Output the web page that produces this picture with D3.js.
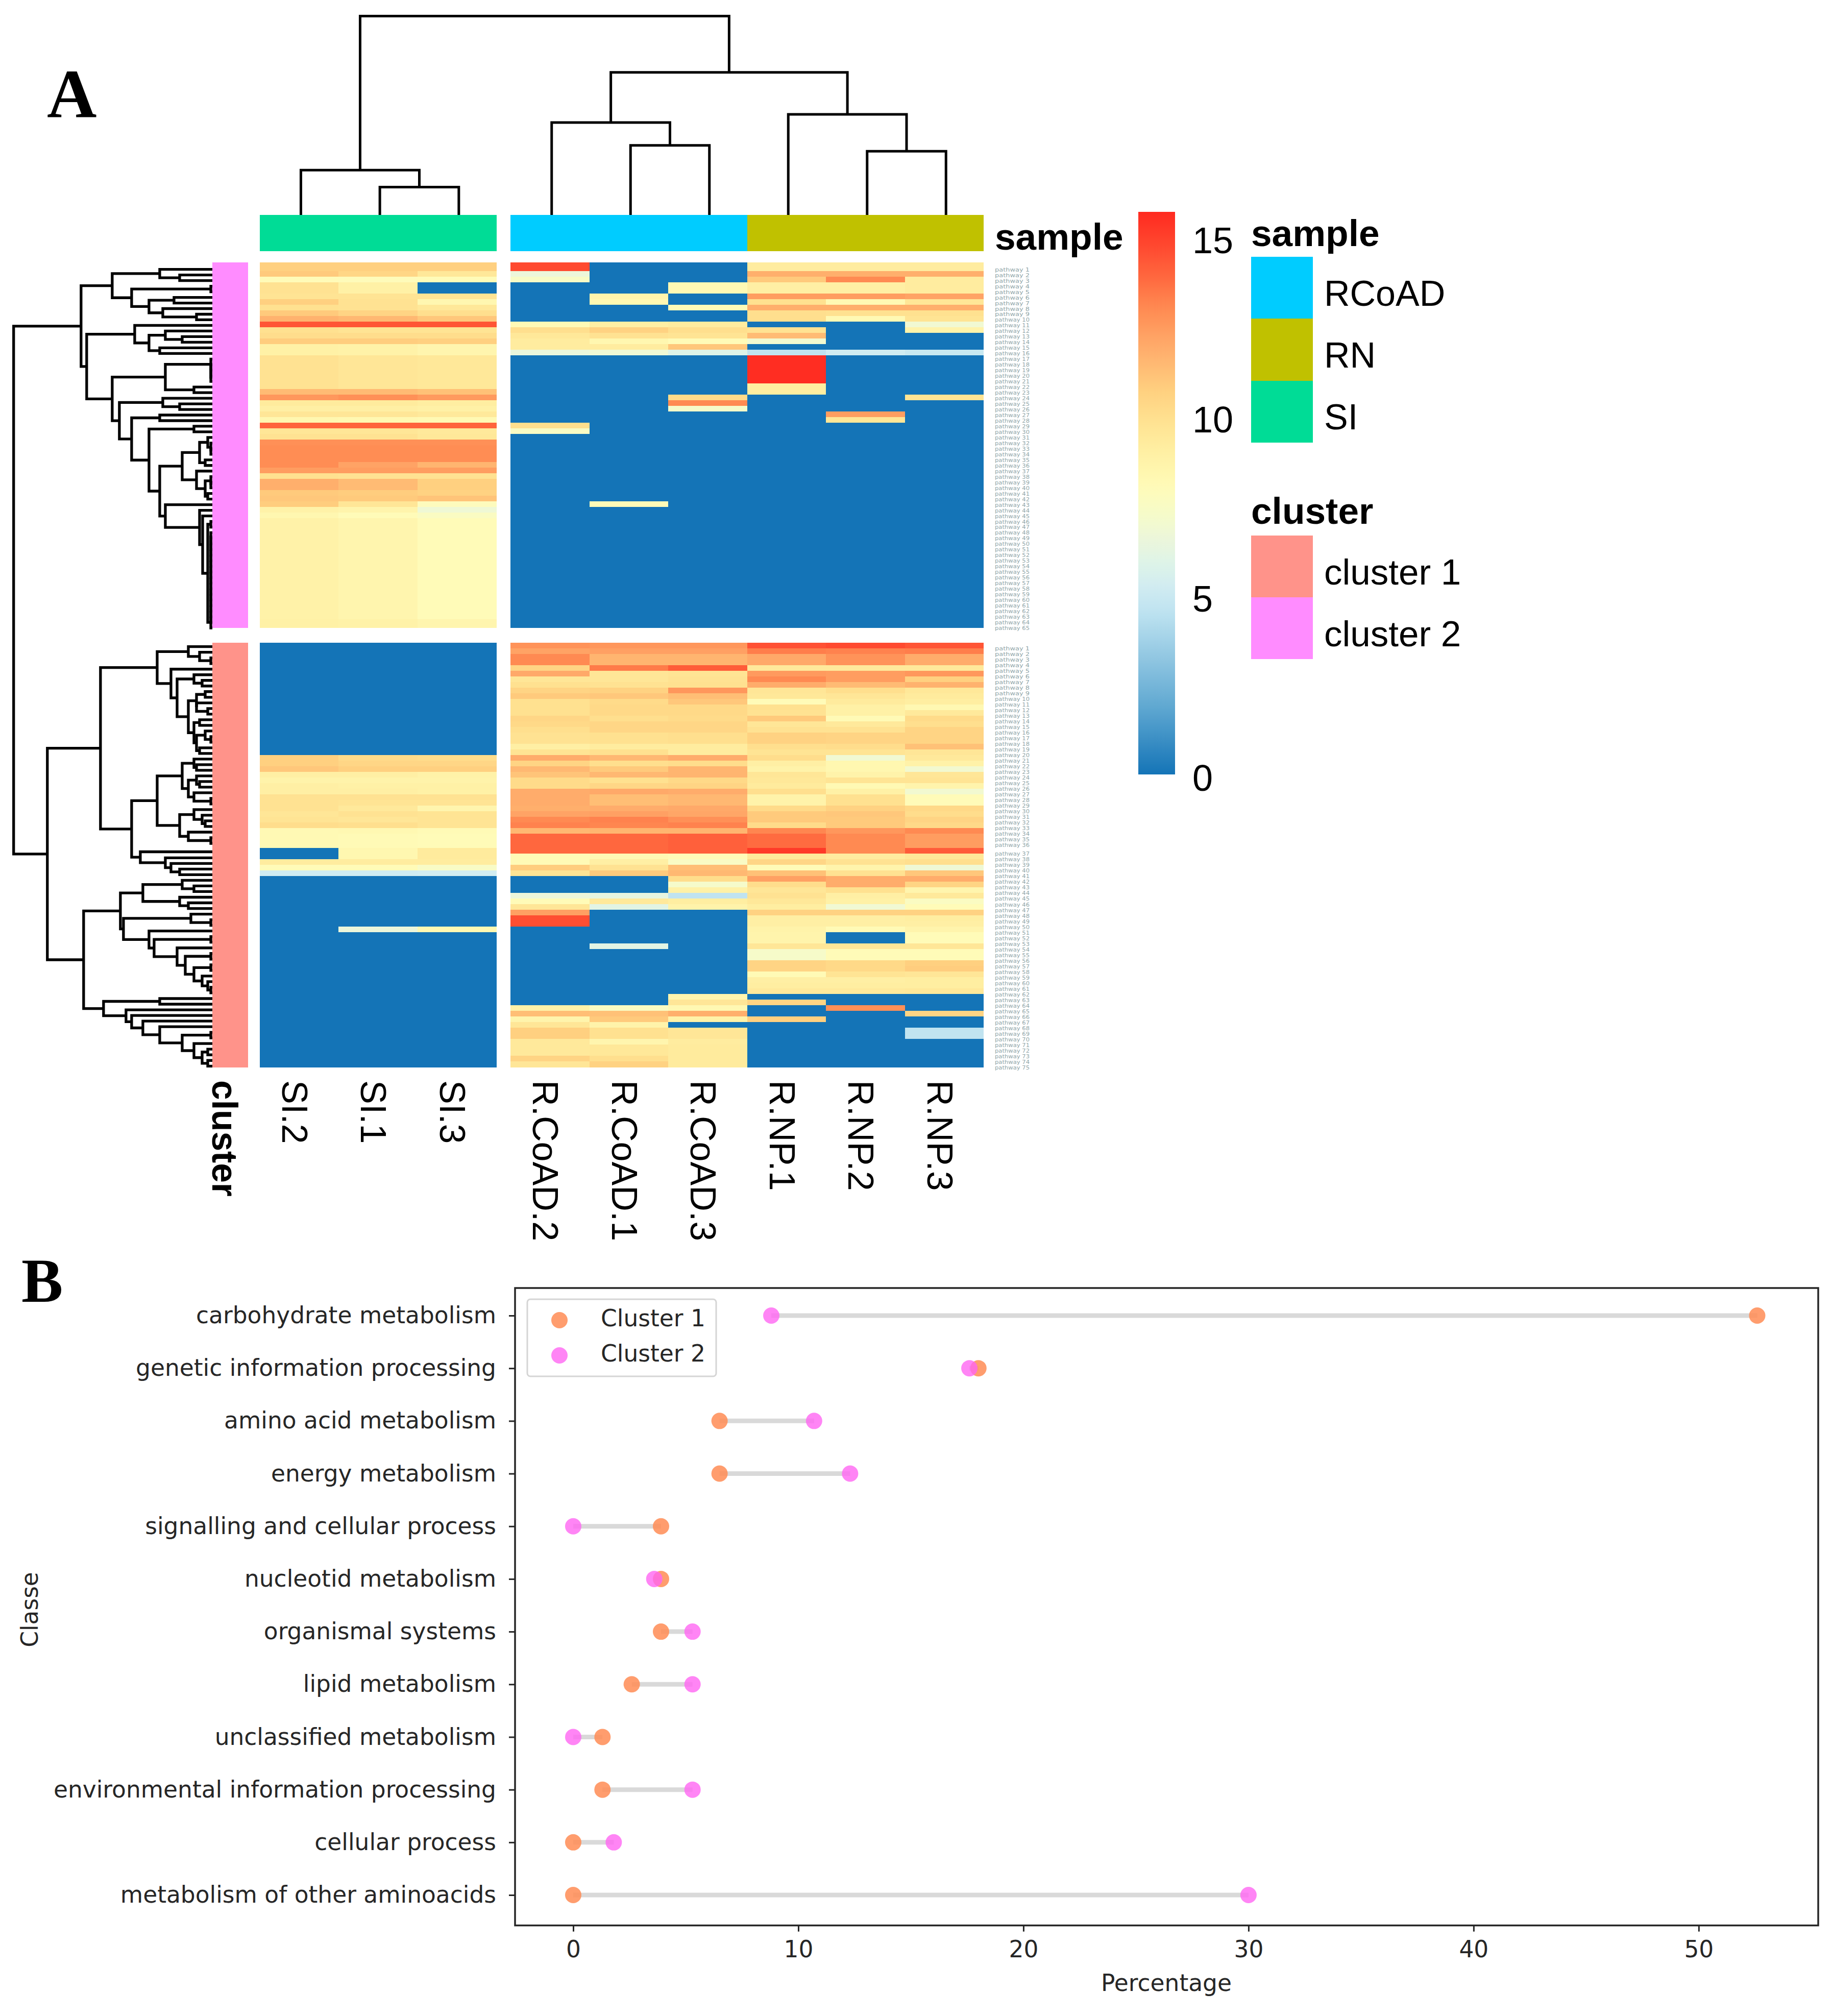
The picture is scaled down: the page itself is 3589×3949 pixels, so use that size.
<!DOCTYPE html>
<html><head><meta charset="utf-8">
<script src="https://cdn.jsdelivr.net/npm/d3@7"></script>
<style>html,body{margin:0;background:#fff}svg{display:block}</style></head>
<body><svg id="c" width="3589" height="3949" xmlns="http://www.w3.org/2000/svg"></svg>
<script>
// ---------- DATA ----------
const columnsSI = ["SI.2","SI.1","SI.3"];
const columnsR = ["R.CoAD.2","R.CoAD.1","R.CoAD.3","R.NP.1","R.NP.2","R.NP.3"];
// each row: SI.2 SI.1 SI.3 | R.CoAD.2 R.CoAD.1 R.CoAD.3 | R.NP.1 R.NP.2 R.NP.3
const heatCluster2 = [
[10.7,10.7,10.7,14.7,0,0,9.2,9.2,9.2],
[10.9,10.4,9.5,6.6,0,0,11.8,11.8,11.8],
[8,7.9,8,7.4,0,0,10.9,13,9.2],
[9.8,8.9,0,0,0,8.2,9,9,9.2],
[9.8,8.9,0,0,0,8.2,9,9,9.2],
[9.7,9.7,9.7,0,8.6,0,12.4,12.4,12.2],
[10.7,9.8,8.4,0,8.3,0,9.9,8.2,9.6],
[9.9,9.8,9.5,0,0,8,11.8,11.8,11.8],
[10.9,10.5,10,0,0,0,10,9.9,9.9],
[11.7,11.5,11,0,0,0,10,8.2,9.7],
[14.4,14.4,14.4,8.1,9,9.2,0,0,6.9],
[9.9,9.7,9.7,10,10.6,10,9.8,0,8.7],
[10.1,10.1,10.1,9.5,9.8,9.7,11.4,0,0],
[10.8,10.8,10.7,9.2,8.4,8,7,0,0],
[8.9,8.8,8.5,9.2,9.2,11,0,0,0],
[8.9,8.8,8.5,6.5,6.8,5.9,4.6,5.2,4.9],
[9.8,9.6,9.5,0,0,0,15.6,0,0],
[9.8,9.6,9.5,0,0,0,15.6,0,0],
[9.8,9.6,9.5,0,0,0,15.6,0,0],
[9.8,9.6,9.5,0,0,0,15.6,0,0],
[9.8,9.6,9.5,0,0,0,15.6,0,0],
[9.8,9.6,9.5,0,0,0,9.1,0,0],
[11.4,11.4,11.2,0,0,0,9.1,0,0],
[12.6,12.8,12.5,0,0,10.2,0,0,9.7],
[9.3,9.3,9.1,0,0,13,0,0,0],
[9,9,8.9,0,0,7.3,0,0,0],
[9.6,9.6,9.4,0,0,0,0,12.4,0],
[8.4,8.3,8.2,0,0,0,0,9.6,0],
[14,14,14,10,0,0,0,0,0],
[9.6,9.6,9.4,7.5,0,0,0,0,0],
[9.8,9.8,9.5,0,0,0,0,0,0],
[12.8,12.8,12.8,0,0,0,0,0,0],
[12.9,12.9,12.9,0,0,0,0,0,0],
[12.9,12.9,12.9,0,0,0,0,0,0],
[12.9,12.9,12.9,0,0,0,0,0,0],
[12.9,12.2,11.6,0,0,0,0,0,0],
[12.4,12.4,12.4,0,0,0,0,0,0],
[9.9,9.8,9.8,0,0,0,0,0,0],
[11.8,11.4,10.7,0,0,0,0,0,0],
[11.8,11.4,10.7,0,0,0,0,0,0],
[10.9,10.8,10.6,0,0,0,0,0,0],
[11,10.9,11.1,0,0,0,0,0,0],
[10.8,9.6,7.8,0,8,0,0,0,0],
[8.8,8.6,6.8,0,0,0,0,0,0],
[8.4,8,7.6,0,0,0,0,0,0],
[8.8,8.5,8,0,0,0,0,0,0],[8.8,8.5,8,0,0,0,0,0,0],[8.8,8.5,8,0,0,0,0,0,0],[8.8,8.5,8,0,0,0,0,0,0],
[8.8,8.5,8,0,0,0,0,0,0],[8.8,8.5,8,0,0,0,0,0,0],[8.8,8.5,8,0,0,0,0,0,0],[8.8,8.5,8,0,0,0,0,0,0],
[8.8,8.5,8,0,0,0,0,0,0],[8.8,8.5,8,0,0,0,0,0,0],[8.8,8.5,8,0,0,0,0,0,0],[8.8,8.5,8,0,0,0,0,0,0],
[8.8,8.5,8,0,0,0,0,0,0],[8.8,8.5,8,0,0,0,0,0,0],[8.8,8.5,8,0,0,0,0,0,0],[8.8,8.5,8,0,0,0,0,0,0],
[8.8,8.5,8,0,0,0,0,0,0],[8.8,8.5,8,0,0,0,0,0,0],
[8.9,8.8,8.5,0,0,0,0,0,0],[8.9,8.8,8.5,0,0,0,0,0,0]
];
const heatCluster1 = [
[0,0,0,12.7,12.6,12.6,14.5,14.7,14.4],
[0,0,0,12.2,12.3,12.3,13.3,13.2,13.3],
[0,0,0,13,11.6,11.6,12,12.7,11.9],
[0,0,0,13,11.6,11.6,12,12.7,11.9],
[0,0,0,10.5,13.4,14.2,9.4,9.4,9.4],
[0,0,0,12,9.6,9.7,12.5,12.4,12.6],
[0,0,0,9.6,9.6,9.8,13,12.4,10.7],
[0,0,0,9.9,9.8,9.9,11.9,11.4,11.7],
[0,0,0,10.5,10.6,12.6,9.6,10,9.5],
[0,0,0,10.9,11,11.3,9.5,9.6,9.3],
[0,0,0,9.9,10.2,11,8,9.3,9.1],
[0,0,0,9.9,10.3,10.3,9.9,8.9,8.3],
[0,0,0,9.9,10.3,10.3,9.8,8.9,9.4],
[0,0,0,10.4,10,10.2,10.9,8.1,10.2],
[0,0,0,10.3,10.4,10.4,9.6,9.4,10],
[0,0,0,10,10.4,10.4,9.8,9.8,10.5],
[0,0,0,9.8,9.9,10,10.6,10.5,10.5],
[0,0,0,9.8,9.9,10,10.6,10.5,10.5],
[0,0,0,9,9.2,9.2,10,10.1,11.2],
[0,0,0,9.7,9.9,9.2,9.7,9.7,9.6],
[10.7,10.2,10.1,11.9,11.5,11.9,10.1,6.9,9.4],
[10.7,10.4,10.4,10.5,10,10.1,9,8.4,8.8],
[11,10.7,10.7,11.5,10.9,11.6,8.7,8.4,7],
[9,9,8.8,11.1,11.5,11.6,9.6,8.7,9.6],
[8.7,8.7,8.7,10.2,9.9,10.3,9.5,9.7,9.7],
[9,8.9,8.9,10.2,10.4,10.5,9.3,8.2,8.6],
[9,9,8.9,11.9,12,11.9,10,8.9,7],
[9.8,9.8,9.8,11.9,11.3,11.5,8.7,9.9,8],
[9.8,9.7,9.7,11.9,11.3,11.5,8.7,9.9,8],
[9.8,9.4,8.5,11.8,11.9,12,10.2,10.6,10.3],
[9.6,9.8,9.7,12.2,12.3,12.1,10.9,11,10.1],
[9.7,9.6,9.7,13,13.2,12.8,10.9,10.9,10.5],
[10.1,10,9.7,13.2,13.1,13.2,10.2,10.9,10.3],
[8.2,8.3,8.1,11.5,11.6,11.6,13.1,12.6,13],
[8.2,8.1,8,13.9,13.9,14.1,13.8,13,12.4],
[8.2,8.1,8,13.9,13.9,14.1,13.8,13,12.4],
[0,8.4,9.3,13.9,13.9,14.1,15.2,13,14.2],
[0,8.4,9.3,8.1,8.2,8,9.4,9.2,9.5],
[9.2,9.2,9.2,8.1,9,7.5,10.4,9.8,10],
[8,8,7.4,10.8,9.8,11.3,8,8.6,6.8],
[5.2,5.2,5.3,9.7,10.9,11.5,11.2,9.8,11],
[0,0,0,0,0,10.1,12.3,11.9,11.9],
[0,0,0,0,0,7.2,10.1,11.9,10.5],
[0,0,0,0,0,8.9,9.6,9.9,8.5],
[0,0,0,6.6,6.3,4.6,9.8,9,9.4],
[0,0,0,8,9.4,9.1,9.5,8.9,7.6],
[0,0,0,9.6,6.1,8.7,9.1,6.9,8],
[0,0,0,12.3,0,0,10.6,10.6,10.6],
[0,0,0,14.6,0,0,9,9,9.1],
[0,0,0,14.6,0,0,9,9,9],
[0,6.6,8.3,0,0,0,8.7,8.1,8.6],
[0,0,0,0,0,0,8.6,0,8],
[0,0,0,0,0,0,8.6,0,8],
[0,0,0,0,6.1,0,9.6,9.6,9.6],
[0,0,0,0,0,0,7.3,8,8],
[0,0,0,0,0,0,7.3,8,8],
[0,0,0,0,0,0,10.5,10.3,10.7],
[0,0,0,0,0,0,10.5,10.3,10.8],
[0,0,0,0,0,0,8.1,9.7,9.6],
[0,0,0,0,0,0,9,9,9.1],
[0,0,0,0,0,0,9.1,9.1,9.1],
[0,0,0,0,0,0,9.4,9.4,9.5],
[0,0,0,0,0,8.5,0,0,0],
[0,0,0,0,0,9.6,10.5,0,0],
[0,0,0,8.8,7.6,8.3,0,12.8,0],
[0,0,0,11.3,11.2,11.8,0,0,10.5],
[0,0,0,8.6,10.9,8.8,10.7,0,0],
[0,0,0,9.6,8.7,0,0,0,0],
[0,0,0,10.7,9.9,9.6,0,0,4.6],
[0,0,0,10.7,9.9,9.6,0,0,4.6],
[0,0,0,9.4,8.5,9.2,0,0,0],
[0,0,0,9.4,9.5,9.3,0,0,0],
[0,0,0,9.4,9.5,9.3,0,0,0],
[0,0,0,10.5,10,9.3,0,0,0],
[0,0,0,9.6,10.6,9.3,0,0,0]
];
// colour scale stops
const colorStops = [0,2,4.5,5.2,6,6.6,7.2,8,8.8,9.3,10,10.7,11.5,12.2,13,13.8,14.7,15.7];
const colorValues = ["#1474b7","#64abd3","#bde2f0","#d0ecf2","#e0f4e6","#ecf6da","#f5fbcb","#fffbb8","#fff2a8","#ffeb9d","#ffdf8e","#ffd080","#ffb872","#ffa365","#ff8a52","#ff6b40","#ff4a30","#ff2a20"];
const colorTicks = [0,5,10,15];
// dendrograms: [merge height, childA, childB], 0 is a leaf
const colTree = [100,[22.5,0,[14,0,0]],[71.7,[46.5,0,[35,0,0]],[50.6,0,[32,0,0]]]];
const tail = [3,[3,[3,[3,[3,[3,[3,[3,[3,[3,[3,[3,[3,[3,[3,[3,[3,0,0],0],0],0],0],0],0],0],0],0],0],0],0],0],0],0],0];
const treeCluster2 = [257,
 [196,[103,0,[64,0,0]],[158,[3,0,0],[124,[75,0,0],[97,0,[31,0,0]]]]],
 [246,[152,0,[124,[92,0,[59,0,0]],[103,0,0]]],
  [196,[92,[3,0,[3,0,[3,0,[3,0,0]]]],[36,0,0]],
   [182,[97,0,[64,0,0]],
    [158,[103,0,0],
     [124,[36,0,0],
      [103,[59,[25,[9,0,[3,0,[3,0,0]]],[14,0,0]],[31,0,[14,[3,0,[3,0,0]],[9,0,0]]]],
       [92,0,[25,0,[19,0,[9,[3,0,0],tail]]]]]]]]]]];
const treeCluster1 = [323,
 [219,
  [108,[47,0,[25,0,[3,0,0]]],[81,0,[69,[36,0,[20,0,0]],[47,[31,[14,0,0],[31,0,[9,0,0]]],[36,[25,0,0],[31,[14,0,[3,0,0]],[25,0,0]]]]]]],
  [158,
   [108,[59,[36,0,[31,0,0]],[47,[31,0,[25,0,0]],[36,0,[3,0,0]]]],[64,[36,0,[20,0,[14,0,0]]],[47,0,[3,0,0]]]],
   [141,0,[92,0,[81,0,[64,0,0]]]]]],
 [252,
  [180,[136,[59,0,[36,0,0]],[64,0,[47,0,0]]],
   [174,[42,0,[3,0,0]],[124,0,[114,[3,0,0],[69,0,[53,[3,0,0],[36,[3,0,0],[20,0,[9,0,[3,0,0]]]]]]]]]],
  [213,[103,0,0],[169,0,[158,0,[136,0,[103,0,[59,[3,0,0],[36,0,[20,[9,0,0],[9,0,0]]]]]]]]]]];
const rowTree = [389,treeCluster2,treeCluster1];
const sampleLegend = ["RCoAD","RN","SI"];
const clusterLegend = ["cluster 1","cluster 2"];
// panel B
const classes = ["carbohydrate metabolism","genetic information processing","amino acid metabolism","energy metabolism","signalling and cellular process","nucleotid metabolism","organismal systems","lipid metabolism","unclassified metabolism","environmental information processing","cellular process","metabolism of other aminoacids"];
const cluster1Pct = [52.6,18,6.5,6.5,3.9,3.9,3.9,2.6,1.3,1.3,0,0];
const cluster2Pct = [8.8,17.6,10.7,12.3,0,3.6,5.3,5.3,0,5.3,1.8,30];
const pctTicks = [0,10,20,30,40,50];

// ---------- STYLE ----------
const SANS = "'Liberation Sans',Arial,sans-serif", DJ = "'DejaVu Sans',sans-serif", SERIF="'Liberation Serif',serif";
const cSI="#00dc96", cRC="#00ccff", cRN="#c0c100", cC1="#ff938a", cC2="#ff8cff";
const svg = d3.select("#c");
const color = d3.scaleLinear().domain(colorStops).range(colorValues).clamp(true);

// ---------- HEATMAP SCALES ----------
const xSI = d3.scaleBand().domain(columnsSI).range([508.6,972.7]);
const xR  = d3.scaleBand().domain(columnsR).range([1000,1927]);
const colX = c => columnsSI.includes(c) ? xSI(c) : xR(c);
const allCols = columnsSI.concat(columnsR);
const step = 11.007;
const yC2 = d3.scaleLinear().domain([0,1,64,65]).range([514,514+1.53*step,514+1.53*step+63*step,1230]);
const yC1 = d3.scaleLinear().domain([0,34,35,75]).range([1258.5,1258.5+34*step,1258.5+35.55*step,2090.5]);

function drawHeat(rows,y,cls){
  const g = svg.append("g").attr("class",cls).attr("shape-rendering","crispEdges");
  rows.forEach((r,i)=>{
    g.selectAll(null).data(r).join("rect")
     .attr("x",(d,j)=>colX(allCols[j]))
     .attr("width",(d,j)=>columnsSI.includes(allCols[j])?xSI.bandwidth():xR.bandwidth())
     .attr("y",y(i)).attr("height",y(i+1)-y(i))
     .attr("fill",d=>color(d));
  });
}
drawHeat(heatCluster2,yC2,"heat2");
drawHeat(heatCluster1,yC1,"heat1");

// annotation bars
const annot = svg.append("g").attr("shape-rendering","crispEdges");
annot.append("rect").attr("x",xSI.range()[0]).attr("y",421).attr("width",xSI.range()[1]-xSI.range()[0]).attr("height",71).attr("fill",cSI);
annot.append("rect").attr("x",xR("R.CoAD.2")).attr("y",421).attr("width",3*xR.bandwidth()).attr("height",71).attr("fill",cRC);
annot.append("rect").attr("x",xR("R.NP.1")).attr("y",421).attr("width",3*xR.bandwidth()).attr("height",71).attr("fill",cRN);
annot.append("rect").attr("x",416).attr("y",514).attr("width",70).attr("height",716).attr("fill",cC2);
annot.append("rect").attr("x",416).attr("y",1258.5).attr("width",70).attr("height",832).attr("fill",cC1);

// ---------- DENDROGRAMS ----------
function dendro(tree,pos,depth,breaks){
  const root = d3.hierarchy(tree,d=>Array.isArray(d)?d.slice(1):null);
  let n=0;
  root.eachAfter(nd=>{
    if(!nd.children){nd.p=pos(n++);nd.h=0;}
    else{nd.p=d3.mean(nd.children,c=>c.p);nd.h=nd.data[0];}
  });
  const segs=[];
  root.each(nd=>{ if(nd.children){
    const [a,b]=nd.children;
    segs.push(breaks(a.h,a.p,nd.h,nd.p,b.h,b.p));
  }});
  svg.append("g").selectAll("path").data(segs).join("path")
    .attr("d",d=>d).attr("fill","none").attr("stroke","#000").attr("stroke-width",depth).attr("stroke-linejoin","miter").attr("stroke-linecap","butt");
}
const colH = d3.scaleLinear().domain([0,100]).range([421,31.5]);
const colPos = i => colX(allCols[i])+ (i<3?xSI.bandwidth():xR.bandwidth())/2 + 3.5;
dendro(colTree,colPos,5,(ha,pa,h,p,hb,pb)=>`M${pa},${colH(ha)}V${colH(h)}H${pb}V${colH(hb)}`);

const rowH = d3.scaleLinear().domain([0,389]).range([416,26.7]);
const leaf2 = d3.scaleLinear().domain([0,64]).range([527.7,1230]);
const leaf1 = d3.scaleLinear().domain([0,35,36,37,74]).range([1266.7,1652,1668.5,1680.3,2088.3]);
const rowPos = i => i<65 ? leaf2(i) : leaf1(i-65);
dendro(rowTree,rowPos,5.3,(ha,pa,h,p,hb,pb)=>`M${rowH(ha)},${pa}H${rowH(h)}V${pb}H${rowH(hb)}`);

// ---------- ANNOTATION TEXT ----------
const label=(t,x,y,size,opt={})=>svg.append("text").text(t).attr("x",x).attr("y",y).attr("font-size",size)
  .attr("font-family",opt.font||SANS).attr("font-weight",opt.bold?"bold":"normal").attr("fill","#000")
  .attr("text-anchor",opt.anchor||"start");
const vlabel=(t,x,y,size,bold)=>svg.append("text").text(t).attr("transform",`translate(${x},${y}) rotate(90)`)
  .attr("font-size",size).attr("font-family",SANS).attr("font-weight",bold?"bold":"normal").attr("fill","#000");

label("A",92,230,135,{font:SERIF,bold:true});
label("B",42,2550,122,{font:SERIF,bold:true});
label("sample",1949,489,73,{bold:true});
vlabel("cluster",416,2116,69.5,true);
allCols.forEach(c=>vlabel(c,colX(c)+44,2116,70));

// row labels are unreadable in the source: small grey placeholders
function rowLabels(n,pos,cls){
  svg.append("g").attr("class",cls).selectAll("text").data(d3.range(n)).join("text")
   .attr("x",1949).attr("y",i=>pos(i)+4).attr("font-size",11).attr("font-family",DJ).attr("fill","#8fa5a8")
   .attr("textLength",68).attr("lengthAdjust","spacingAndGlyphs").text(i=>"pathway "+(i+1));
}
rowLabels(65,leaf2,"rl2");
rowLabels(75,i=>leaf1(i)+3,"rl1");

// colour bar
const defs = svg.append("defs");
const grad = defs.append("linearGradient").attr("id","cb").attr("x1",0).attr("x2",0).attr("y1",1).attr("y2",0);
d3.range(0,1.0001,0.02).forEach(t=>grad.append("stop").attr("offset",t).attr("stop-color",color(t*15.7)));
svg.append("rect").attr("x",2230).attr("y",415).attr("width",72).attr("height",1102).attr("fill","url(#cb)");
const cbY = d3.scaleLinear().domain([0,15]).range([1549,496]);
colorTicks.forEach(t=>label(String(t),2336,cbY(t),72));

// legends
label("sample",2451,482,73,{bold:true});
const legY = d3.scaleBand().domain(sampleLegend).range([503,867]);
const legC = {RCoAD:cRC,RN:cRN,SI:cSI};
sampleLegend.forEach(s=>{
  svg.append("rect").attr("x",2451).attr("y",legY(s)).attr("width",121).attr("height",legY.bandwidth()).attr("fill",legC[s]).attr("shape-rendering","crispEdges");
  label(s,2594,legY(s)+legY.bandwidth()/2+35,70);
});
label("cluster",2451,1026,73,{bold:true});
const legY2 = d3.scaleBand().domain(clusterLegend).range([1049,1291]);
clusterLegend.forEach((s,i)=>{
  svg.append("rect").attr("x",2451).attr("y",legY2(s)).attr("width",121).attr("height",legY2.bandwidth()).attr("fill",i?cC2:cC1).attr("shape-rendering","crispEdges");
  label(s,2594,legY2(s)+legY2.bandwidth()/2+35,71);
});

// ---------- PANEL B ----------
const x = d3.scaleLinear().domain([-2.585,55.31]).range([1009,3562]);
const y = d3.scalePoint().domain(classes).range([2577,3712]);
const TXT="#262626";
svg.append("rect").attr("x",1009).attr("y",2523).attr("width",2553).attr("height",1248.6).attr("fill","none").attr("stroke",TXT).attr("stroke-width",3.5);
const gy = svg.append("g").attr("transform","translate(1009,0)").call(d3.axisLeft(y).tickSize(12).tickPadding(25));
const gx = svg.append("g").attr("transform","translate(0,3771.6)").call(d3.axisBottom(x).tickValues(pctTicks).tickSize(12).tickPadding(18));
[gy,gx].forEach(g=>{
  g.select(".domain").remove();
  g.selectAll("line").attr("stroke",TXT).attr("stroke-width",3);
  g.selectAll("text").attr("font-size",45.5).attr("font-family",DJ).attr("fill",TXT);
});
svg.append("g").selectAll("line").data(classes).join("line")
 .attr("x1",(d,i)=>x(cluster1Pct[i])).attr("x2",(d,i)=>x(cluster2Pct[i]))
 .attr("y1",d=>y(d)).attr("y2",d=>y(d)).attr("stroke","#d9d9d9").attr("stroke-width",9);
const dot1="#ff8c55", dot2="#ff66f2";
svg.append("g").selectAll("circle").data(classes).join("circle")
 .attr("cx",(d,i)=>x(cluster1Pct[i])).attr("cy",d=>y(d)).attr("r",16).attr("fill",dot1).attr("fill-opacity",.85);
svg.append("g").selectAll("circle").data(classes).join("circle")
 .attr("cx",(d,i)=>x(cluster2Pct[i])).attr("cy",d=>y(d)).attr("r",16).attr("fill",dot2).attr("fill-opacity",.8);

// legend B
svg.append("rect").attr("x",1033).attr("y",2545).attr("width",370).attr("height",151).attr("rx",6).attr("fill","#fff").attr("fill-opacity",.8).attr("stroke","#d5d5d5").attr("stroke-width",3);
[["Cluster 1",dot1,.85,2586],["Cluster 2",dot2,.8,2655]].forEach(([t,c,o,yy])=>{
  svg.append("circle").attr("cx",1096).attr("cy",yy).attr("r",16).attr("fill",c).attr("fill-opacity",o);
  svg.append("text").text(t).attr("x",1177).attr("y",yy+12).attr("font-size",45.5).attr("font-family",DJ).attr("fill",TXT);
});
svg.append("text").text("Percentage").attr("x",2285).attr("y",3900).attr("text-anchor","middle").attr("font-size",45.5).attr("font-family",DJ).attr("fill",TXT);
svg.append("text").text("Classe").attr("transform","translate(74,3153) rotate(-90)").attr("text-anchor","middle").attr("font-size",45.5).attr("font-family",DJ).attr("fill",TXT);
</script></body></html>
